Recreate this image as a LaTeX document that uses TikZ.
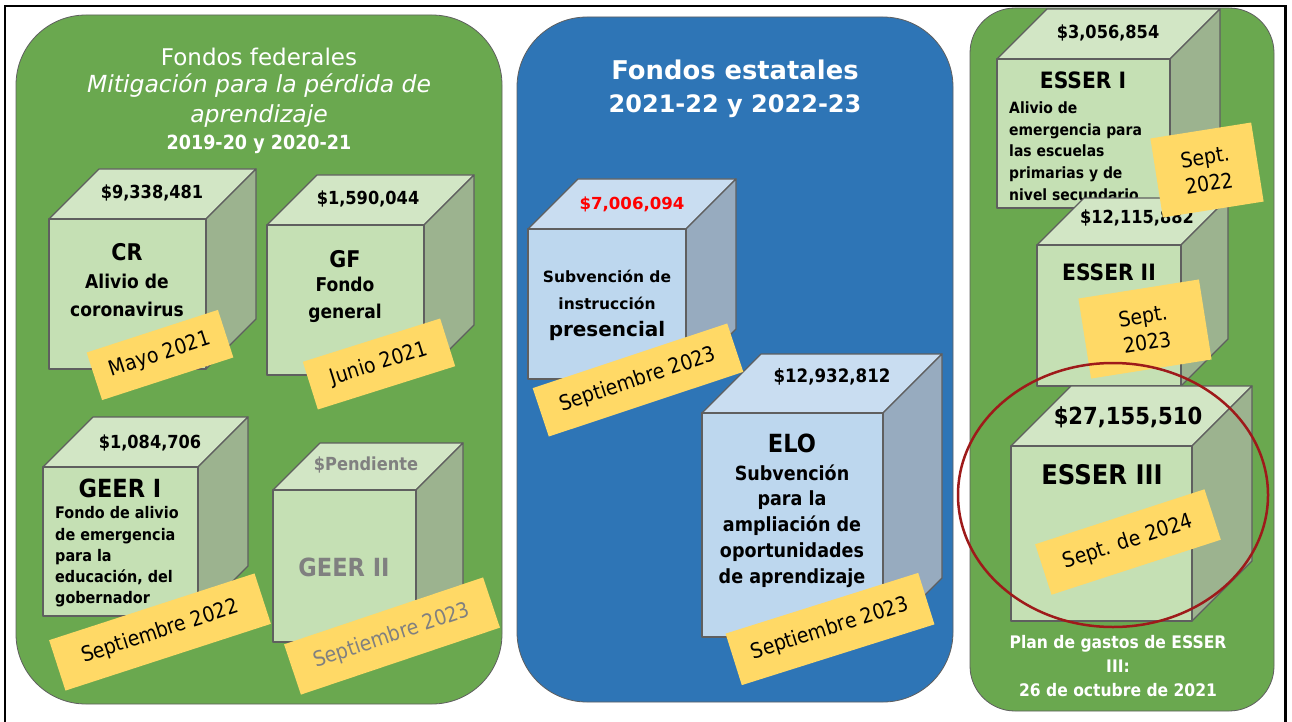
\documentclass[tikz,border=0pt]{standalone}
\usepackage{fontspec}
\setmainfont{DejaVu Sans}
\newfontfamily\tah[FakeStretch=0.9]{DejaVu Sans}
\newfontfamily\verd{DejaVu Sans}
\definecolor{panelgreen}{HTML}{6AA84F}
\definecolor{panelblue}{HTML}{2E75B6}
\definecolor{gfront}{HTML}{C5E0B4}
\definecolor{gtop}{HTML}{D2E6C5}
\definecolor{gside}{HTML}{9CB38F}
\definecolor{bfront}{HTML}{BDD7EE}
\definecolor{btop}{HTML}{C9DDF1}
\definecolor{bside}{HTML}{97ABBF}
\definecolor{dateyellow}{HTML}{FFD966}
\definecolor{edgegray}{HTML}{5F5F5F}
\definecolor{pendgray}{HTML}{808080}
\definecolor{ringred}{HTML}{9E1A1A}
\newcommand\mycube[8]{%
  \draw[cubeedge, fill=#7] (#1,#2) -- (#1+#5,#2-#5) -- (#1+#3+#5,#2-#5) -- (#1+#3,#2) -- cycle;
  \draw[cubeedge, fill=#8] (#1+#3,#2) -- (#1+#3+#5,#2-#5) -- (#1+#3+#5,#2+#4-#5) -- (#1+#3,#2+#4) -- cycle;
  \draw[cubeedge, fill=#6] (#1,#2) rectangle (#1+#3,#2+#4);
}
\begin{document}
\begin{tikzpicture}[x=1pt,y=-1pt,
  panel/.style={draw=edgegray, line width=0.8pt, rounded corners=70pt},
  cubeedge/.style={draw=edgegray, line width=1.2pt, line join=round},
  datebox/.style={fill=dateyellow, inner sep=0pt, align=center, font=\tah\fontsize{21}{27}\selectfont},
  amt/.style={inner sep=0pt, font=\tah\bfseries\fontsize{18}{22}\selectfont},
  fund/.style={inner sep=0pt, font=\tah\bfseries\fontsize{24}{28}\selectfont},
  descr/.style={inner sep=0pt, align=center, font=\tah\bfseries\fontsize{19}{28}\selectfont},
  bodytext/.style={inner sep=0pt, align=left, font=\tah\bfseries\fontsize{16}{21.25}\selectfont},
  ttl/.style={inner sep=0pt, text=white, align=center}
]
\useasboundingbox (0,0) rectangle (1292,722);
\fill[white] (0,0) rectangle (1292,722);
% frame
\draw[line width=2.6pt] (5,740) -- (5,6) -- (1285.5,6) -- (1285.5,740);

% panels
\draw[panel, fill=panelgreen] (16,15) rectangle (502,704);
\draw[panel, fill=panelblue] (517,17) rectangle (953,702);
\draw[panel, fill=panelgreen, rounded corners=45pt] (970,8) rectangle (1274,711);

% left titles
\node[ttl, font=\verd\fontsize{23}{28}\selectfont] (lt1) at (259,57) {Fondos federales};
\node[ttl, font=\verd\itshape\fontsize{23.5}{30}\selectfont] (lt2) at (259,101) {Mitigación para la pérdida de\\aprendizaje};
\node[ttl, font=\tah\bfseries\fontsize{19.5}{24}\selectfont] (lt3) at (259,144) {2019-20 y 2020-21};

% middle titles
\node[ttl, font=\verd\bfseries\fontsize{25.8}{30}\selectfont] (mt1) at (735,70) {Fondos estatales};
\node[ttl, font=\verd\bfseries\fontsize{24}{30}\selectfont] (mt2) at (735,106) {2021-22 y 2022-23};

% CR
\mycube{49}{219}{157}{150}{50}{gfront}{gtop}{gside}
\node[amt] (cramt) at (152,193) {\$9,338,481};
\node[fund, font=\tah\bfseries\fontsize{23}{28}\selectfont] (cr) at (127,252) {CR};
\node[descr] (crd) at (127,295) {Alivio de\\coronavirus};

% GF
\mycube{267}{225}{157}{150}{50}{gfront}{gtop}{gside}
\node[amt] (gfamt) at (368,199) {\$1,590,044};
\node[fund, font=\tah\bfseries\fontsize{23}{28}\selectfont] (gf) at (345,259) {GF};
\node[descr, font=\tah\bfseries\fontsize{19}{27}\selectfont] (gfd) at (345,300) {Fondo\\general};

% GEER I
\mycube{43}{467}{155}{149}{50}{gfront}{gtop}{gside}
\node[amt] (g1amt) at (150,443) {\$1,084,706};
\node[fund, font=\tah\bfseries\fontsize{25}{28}\selectfont] (g1) at (120,488) {GEER I};
\node[bodytext, anchor=west] (g1d) at (55,557) {Fondo de alivio\\de emergencia\\para la\\educación, del\\gobernador};

% GEER II
\mycube{273}{490}{143}{152}{47}{gfront}{gtop}{gside}
\node[amt, text=pendgray] (g2amt) at (366,465) {\$Pendiente};
\node[fund, text=pendgray, font=\tah\bfseries\fontsize{25}{28}\selectfont] (g2) at (344,567) {GEER II};

% presencial
\mycube{528}{229}{158}{150}{50}{bfront}{btop}{bside}
\node[amt, text=red, font=\verd\bfseries\fontsize{16.6}{20}\selectfont] (ipamt) at (632,204) {\$7,006,094};
\node[descr, font=\verd\bfseries\fontsize{15.5}{27}\selectfont] (ipd) at (607,290) {Subvención de\\instrucción};
\node[descr, font=\verd\bfseries\fontsize{20}{24}\selectfont] (ipd2) at (607,331) {presencial};

% ELO
\mycube{702}{413}{181}{224}{59}{bfront}{btop}{bside}
\node[amt, font=\tah\bfseries\fontsize{18.5}{22}\selectfont] (eloamt) at (832,377) {\$12,932,812};
\node[fund, font=\tah\bfseries\fontsize{25}{28}\selectfont] (elo) at (792,443) {ELO};
\node[descr, font=\tah\bfseries\fontsize{19.5}{25.75}\selectfont] (elod) at (792,526) {Subvención\\para la\\ampliación de\\oportunidades\\de aprendizaje};

% ESSER I
\mycube{997}{59}{173}{149}{50}{gfront}{gtop}{gside}
\node[amt] (e1amt) at (1108,33) {\$3,056,854};
\node[fund, font=\tah\bfseries\fontsize{22.5}{28}\selectfont] (e1) at (1083,80) {ESSER I};
\begin{scope}
  \clip (997,59) rectangle (1170,208);
  \node[bodytext, font=\tah\bfseries\fontsize{15.5}{21.75}\selectfont, anchor=west] (e1d) at (1009,151) {Alivio de\\emergencia para\\las escuelas\\primarias y de\\nivel secundario};
\end{scope}

% ESSER II
\mycube{1037}{245}{144}{141}{47}{gfront}{gtop}{gside}
\node[amt] (e2amt) at (1137,218) {\$12,115,882};
\node[fund, font=\tah\bfseries\fontsize{22.5}{28}\selectfont] (e2) at (1109,272) {ESSER II};

% ESSER III
\mycube{1011}{446}{181}{175}{60}{gfront}{gtop}{gside}
\node[amt, font=\tah\bfseries\fontsize{23.5}{28}\selectfont] (e3amt) at (1128,417) {\$27,155,510};
\node[fund, font=\tah\bfseries\fontsize{27}{30}\selectfont] (e3) at (1102,475) {ESSER III};

% date labels
\node[datebox, minimum width=138pt, minimum height=50pt, rotate=18] (d1) at (160,355) {Mayo 2021};
\node[datebox, minimum width=144pt, minimum height=50pt, rotate=17.5] (d2) at (379,364) {Junio 2021};
\node[datebox, minimum width=216pt, minimum height=53pt, rotate=18] (d3) at (160,632) {Septiembre 2022};
\node[datebox, text=pendgray, minimum width=210pt, minimum height=53pt, rotate=18.6] (d4) at (392,636) {Septiembre 2023};
\node[datebox, minimum width=205pt, minimum height=51pt, rotate=18.4] (d5) at (638,380) {Septiembre 2023};
\node[datebox, minimum width=202pt, minimum height=54pt, rotate=17.5] (d6) at (830,629) {Septiembre 2023};
\node[datebox, minimum width=102pt, minimum height=80pt, rotate=9] (d7) at (1207,170) {Sept.\\2022};
\node[datebox, minimum width=122pt, minimum height=81pt, rotate=9] (d8) at (1145,329) {Sept.\\2023};
\node[datebox, minimum width=178pt, minimum height=53pt, rotate=18] (d9) at (1128,542) {Sept. de 2024};

% ring
\draw[ringred, line width=2.5pt] (1113,495) ellipse [x radius=155pt, y radius=132pt];

% bottom note
\node[ttl, font=\tah\bfseries\fontsize{17.3}{24}\selectfont] (note) at (1118,666) {Plan de gastos de ESSER\\III:\\26 de octubre de 2021};
\end{tikzpicture}
\end{document}
